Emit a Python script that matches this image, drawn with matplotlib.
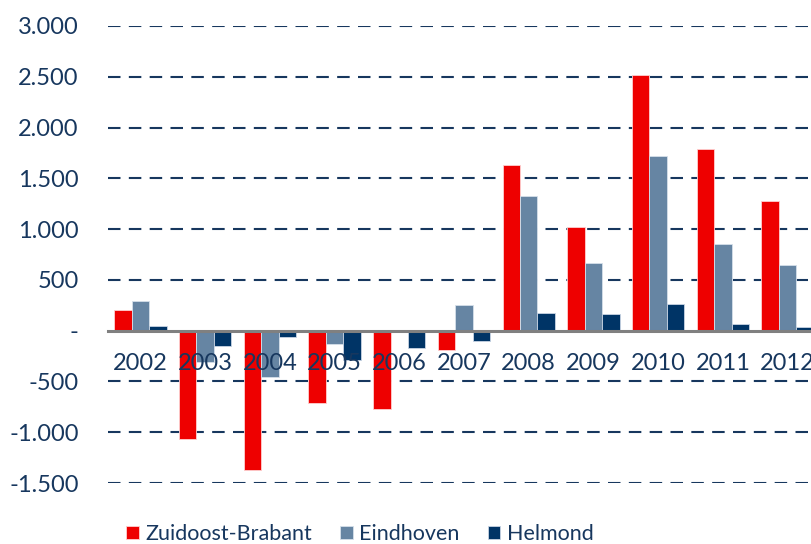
import matplotlib.pyplot as plt
import matplotlib.ticker as mticker
import numpy as np

years = ['2002', '2003', '2004', '2005', '2006', '2007', '2008', '2009', '2010', '2011', '2012']
zuidoost = [205, -1070, -1376, -708, -767, -191, 1634, 1022, 2519, 1785, 1278]
eindhoven = [293, -306, -454, -131, -16, 251, 1328, 666, 1723, 853, 642]
helmond = [43, -151, -65, -290, -174, -102, 178, 168, 261, 69, 40]

navy = '#17375E'
plt.rcParams['font.family'] = ['Lato', 'DejaVu Sans']

fig = plt.figure(figsize=(8.12, 5.44), dpi=100)
ax = fig.add_axes([108 / 812, 1 - 483 / 544, 712 / 812, 457 / 544])

x = np.arange(len(years))
w = 0.27
ax.bar(x - w, zuidoost, w, color='#EE0000', edgecolor='#FFD0D0', linewidth=0.6, label='Zuidoost-Brabant', zorder=3)
ax.bar(x, eindhoven, w, color='#6685A3', edgecolor='#D5DFEA', linewidth=0.6, label='Eindhoven', zorder=3)
ax.bar(x + w, helmond, w, color='#003466', edgecolor='#C8D4E4', linewidth=0.6, label='Helmond', zorder=3)

ax.set_xlim(-0.5, len(years) - 0.5)
ax.set_ylim(-1500, 3000)
ax.set_yticks(np.arange(-1500, 3001, 500))


def fmt(v, pos):
    if v == 0:
        return '-'
    return f'{int(v):,}'.replace(',', '.')


ax.yaxis.set_major_formatter(mticker.FuncFormatter(fmt))
for v in np.arange(-1500, 3001, 500):
    if v != 0:
        ax.axhline(v, color=navy, linewidth=1.5, linestyle=(0, (6, 4)), zorder=1)

for s in ['top', 'right', 'left']:
    ax.spines[s].set_visible(False)
ax.spines['bottom'].set_position(('data', 0))
ax.spines['bottom'].set_color('#808080')
ax.spines['bottom'].set_linewidth(2.2)
ax.spines['bottom'].set_zorder(4)

# year labels drawn on top of the bars, just under the zero line
ax.set_xticks([])
for xi, yr in zip(x, years):
    ax.annotate(yr, (xi, 0), xytext=(0, -24), textcoords='offset points',
                ha='center', va='center', fontsize=17, color=navy, zorder=6)

ax.tick_params(axis='y', length=0, pad=21, labelsize=17, labelcolor=navy)

fig.legend(loc='lower center', bbox_to_anchor=(0.443, -0.036), ncol=3, frameon=False,
           fontsize=15.5, labelcolor=navy, handlelength=0.6, handleheight=0.6,
           handletextpad=0.3, columnspacing=1.3)

fig.savefig('out.png', dpi=100)
